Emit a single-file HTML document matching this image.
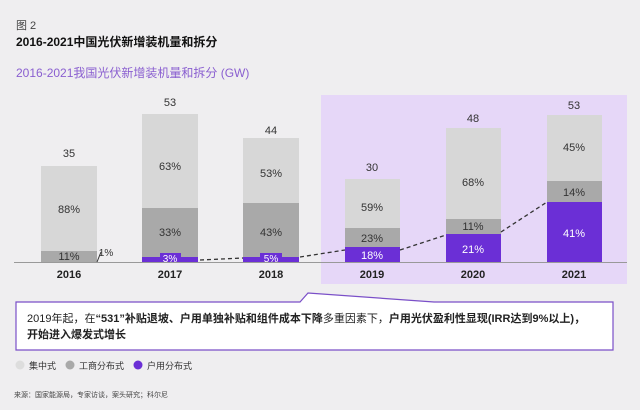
<!DOCTYPE html>
<html><head><meta charset="utf-8"><style>
body{margin:0;width:640px;height:410px;background:#efeef0;font-family:"Liberation Sans","Noto Sans CJK SC",sans-serif;overflow:hidden;position:relative}
.t{position:absolute;white-space:nowrap}
</style></head><body>
<div class="t" style="left:16px;top:17px;font-size:11px;color:#444">图 2</div>
<div class="t" style="left:16px;top:33px;font-size:12px;font-weight:bold;color:#111">2016-2021中国光伏新增装机量和拆分</div>
<div class="t" style="left:16px;top:64px;font-size:12px;color:#8a5fd0">2016-2021我国光伏新增装机量和拆分 (GW)</div>
<svg width="640" height="410" style="position:absolute;left:0;top:0" font-family="Liberation Sans, Noto Sans CJK SC, sans-serif">
<rect x="321" y="95" width="306" height="189" fill="#e6d7f8"/>
<g font-size="11" fill="#333" text-anchor="middle">
<!-- 2016 -->
<rect x="41" y="166" width="56" height="85" fill="#d7d7d7"/><rect x="41" y="251" width="56" height="11" fill="#a9a9a9"/>
<text x="69" y="157">35</text><text x="69" y="213">88%</text><text x="69" y="260">11%</text>
<text x="106" y="256" font-size="10">1%</text><line x1="97" y1="262" x2="101" y2="252" stroke="#333"/>
<!-- 2017 -->
<rect x="142" y="114" width="56" height="94" fill="#d7d7d7"/><rect x="142" y="208" width="56" height="49" fill="#a9a9a9"/><rect x="142" y="257" width="56" height="5" fill="#6b2fd6"/>
<text x="170" y="106">53</text><text x="170" y="170">63%</text><text x="170" y="236">33%</text>
<rect x="160" y="253" width="21" height="10" fill="#6b2fd6"/><text x="170" y="262" fill="#fff" font-size="10">3%</text>
<!-- 2018 -->
<rect x="243" y="138" width="56" height="65" fill="#d7d7d7"/><rect x="243" y="203" width="56" height="54" fill="#a9a9a9"/><rect x="243" y="257" width="56" height="5" fill="#6b2fd6"/>
<text x="271" y="134">44</text><text x="271" y="177">53%</text><text x="271" y="236">43%</text>
<rect x="260" y="253" width="22" height="10" fill="#6b2fd6"/><text x="271" y="262" fill="#fff" font-size="10">5%</text>
<!-- 2019 -->
<rect x="345" y="179" width="55" height="49" fill="#d7d7d7"/><rect x="345" y="228" width="55" height="19" fill="#a9a9a9"/><rect x="345" y="247" width="55" height="15" fill="#6b2fd6"/>
<text x="372" y="171">30</text><text x="372" y="211">59%</text><text x="372" y="242">23%</text><text x="372" y="259" fill="#fff">18%</text>
<!-- 2020 -->
<rect x="446" y="128" width="55" height="91" fill="#d7d7d7"/><rect x="446" y="219" width="55" height="15" fill="#a9a9a9"/><rect x="446" y="234" width="55" height="28" fill="#6b2fd6"/>
<text x="473" y="122">48</text><text x="473" y="186">68%</text><text x="473" y="230">11%</text><text x="473" y="253" fill="#fff">21%</text>
<!-- 2021 -->
<rect x="547" y="115" width="55" height="66" fill="#d7d7d7"/><rect x="547" y="181" width="55" height="21" fill="#a9a9a9"/><rect x="547" y="202" width="55" height="60" fill="#6b2fd6"/>
<text x="574" y="109">53</text><text x="574" y="151">45%</text><text x="574" y="196">14%</text><text x="574" y="237" fill="#fff">41%</text>
</g>
<line x1="14" y1="262.5" x2="627" y2="262.5" stroke="#999" stroke-width="1"/>
<polyline points="200,260 243,258 M0,0" fill="none"/>
<path d="M200 260 L243 258 M300 257 L345 250 M400 250 L446 235 M501 232 L547 202" stroke="#333" stroke-width="1.3" stroke-dasharray="4,3" fill="none"/>
<g font-size="11" font-weight="bold" fill="#222" text-anchor="middle">
<text x="69" y="278">2016</text><text x="170" y="278">2017</text><text x="271" y="278">2018</text><text x="372" y="278">2019</text><text x="473" y="278">2020</text><text x="574" y="278">2021</text>
</g>
<path d="M16 302 L300 302 L308 293 L434 302 L613 302 L613 350 L16 350 Z" fill="#fff" stroke="#7a4fc8" stroke-width="1.2"/>
<circle cx="20" cy="365" r="4.5" fill="#ddd"/><circle cx="70" cy="365" r="4.5" fill="#a9a9a9"/><circle cx="138" cy="365" r="4.5" fill="#6b2fd6"/>
</svg>
<div class="t" style="left:27px;top:310px;font-size:11px;color:#222">2019年起，在<b>“531”补贴退坡、户用单独补贴和组件成本下降</b>多重因素下，<b>户用光伏盈利性显现(IRR达到9%以上)，</b></div>
<div class="t" style="left:27px;top:326px;font-size:11px;color:#222;font-weight:bold">开始进入爆发式增长</div>
<div class="t" style="left:29px;top:359px;font-size:9px;color:#333">集中式</div>
<div class="t" style="left:79px;top:359px;font-size:9px;color:#333">工商分布式</div>
<div class="t" style="left:147px;top:359px;font-size:9px;color:#333">户用分布式</div>
<div class="t" style="left:14px;top:390px;font-size:7px;color:#444">来源：国家能源局，专家访谈，案头研究；科尔尼</div>
</body></html>
